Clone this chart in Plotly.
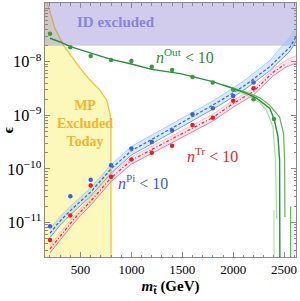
import math
import plotly.graph_objects as go

# ---------------- data ----------------
mass_pts = [200, 400, 600, 800, 1000, 1200, 1400, 1600, 1800, 2000, 2200, 2400]
eps_out_pts = [3.35e-8, 1.86e-8, 1.28e-8, 1.08e-8, 1.03e-8, 8.05e-9, 7.0e-9, 5.2e-9, 4.1e-9, 3.0e-9, 2.0e-9, 8.5e-10]
mass_pi_pts = [200, 400, 600, 800, 1000, 1200, 1400, 1600, 1800, 2000, 2200]
eps_pi_pts = [8.5e-12, 3.1e-11, 6.3e-11, 1.17e-10, 2.4e-10, 3.16e-10, 5.2e-10, 1.05e-9, 1.36e-9, 2.3e-9, 4.1e-9]
mass_tr_pts = [200, 400, 600, 800, 1000, 1200, 1400, 1600, 1800, 2000, 2200]
eps_tr_pts = [4.7e-12, 1.35e-11, 4.9e-11, 7.1e-11, 1.5e-10, 2.0e-10, 2.7e-10, 6.6e-10, 9.0e-10, 1.87e-9, 3.2e-9]

# n^Out < 10 curves
out_main_m = [200, 300, 400, 600, 800, 1000, 1200, 1480, 1600, 1800, 2000, 2130, 2230, 2260, 2360, 2405, 2440, 2456, 2459]
out_main_e = [2.75e-8, 2.34e-8, 1.91e-8, 1.45e-8, 1.11e-8, 9.1e-9, 7.2e-9, 6.0e-9, 5.25e-9, 4.27e-9, 3.16e-9,
              2.57e-9, 2.09e-9, 1.9e-9, 1.35e-9, 8.1e-10, 4.0e-10, 1.45e-10, 1e-12]
out_hi_m = [1900, 2000, 2130, 2260, 2358, 2456, 2495, 2505, 2508]
out_hi_e = [3.72e-9, 3.24e-9, 2.69e-9, 2.14e-9, 1.55e-9, 9.3e-10, 4.57e-10, 1.45e-10, 1.26e-11]
out_hi_tail_m = [2564, 2564]
out_hi_tail_e = [2.0e-11, 1e-12]
out_lo_m = [2000, 2130, 2260, 2325, 2390, 2416, 2427]
out_lo_e = [3.0e-9, 2.4e-9, 1.74e-9, 1.26e-9, 6.2e-10, 1.45e-10, 1.17e-11]
out_lo_tail_m = [2400, 2400]
out_lo_tail_e = [1.7e-11, 1e-12]

# n^Pi < 10 band
pi_m = [200, 300, 400, 500, 600, 800, 1000, 1200, 1400, 1600, 1800, 2000, 2130, 2360, 2560, 2620]
pi_mid = [6.3e-12, 1.07e-11, 1.66e-11, 2.5e-11, 3.7e-11, 1.0e-10, 2.19e-10, 3.55e-10, 5.75e-10, 9.3e-10,
          1.55e-9, 2.63e-9, 3.8e-9, 8.1e-9, 1.9e-8, 3.0e-8]
pi_up = [7.6e-12, 1.29e-11, 2.0e-11, 3.0e-11, 4.45e-11, 1.2e-10, 2.63e-10, 4.27e-10, 6.9e-10, 1.12e-9,
         1.86e-9, 3.2e-9, 4.8e-9, 1.05e-8, 3.0e-8, 5.0e-8]
pi_lo = [5.2e-12, 8.9e-12, 1.38e-11, 2.1e-11, 3.1e-11, 8.3e-11, 1.82e-10, 2.95e-10, 4.8e-10, 7.8e-10,
         1.3e-9, 2.2e-9, 3.2e-9, 6.8e-9, 1.6e-8, 2.5e-8]

# n^Tr < 10 band
tr_m = [200, 300, 400, 500, 600, 800, 1000, 1200, 1400, 1600, 1800, 2000, 2200, 2390, 2520, 2620]
tr_mid = [3.2e-12, 5.6e-12, 9.5e-12, 1.58e-11, 2.5e-11, 6.8e-11, 1.45e-10, 2.3e-10, 3.6e-10, 5.75e-10,
          9.1e-10, 1.66e-9, 2.8e-9, 6.3e-9, 9.3e-9, None]
tr_up = [3.7e-12, 6.5e-12, 1.1e-11, 1.82e-11, 2.9e-11, 7.8e-11, 1.66e-10, 2.63e-10, 4.1e-10, 6.6e-10,
         1.05e-9, 1.9e-9, 3.2e-9, 7.2e-9, 1.07e-8, 1.3e-8]
tr_lo = [2.7e-12, 4.8e-12, 8.1e-12, 1.35e-11, 2.1e-11, 5.8e-11, 1.23e-10, 1.95e-10, 3.1e-10, 4.9e-10,
         7.8e-10, 1.42e-9, 2.4e-9, 5.4e-9, 8.0e-9, 9.5e-9]

# MP excluded today boundary
mp_m = [140, 168, 249, 331, 413, 511, 593, 691, 757, 789, 799, 800, 800]
mp_e = [2e-7, 1.32e-7, 4.2e-8, 2.05e-8, 1.24e-8, 7.0e-9, 4.55e-9, 2.96e-9, 1.92e-9, 1.1e-9, 6.1e-10, 2.24e-10, 1e-12]

# ID excluded limit
id_limit = 2.0e-8

x_ticks = [500, 1000, 1500, 2000, 2500]

# ---------------- figure ----------------
SERIF = "Liberation Serif"
fig = go.Figure()

# MP excluded region
fig.add_trace(go.Scatter(x=mp_m + [140], y=mp_e[:-1] + [1e-12, 1e-12], mode="lines",
                         fill="toself", fillcolor="rgba(252,247,175,0.85)", line=dict(width=0),
                         hoverinfo="skip", showlegend=False))
fig.add_trace(go.Scatter(x=mp_m, y=mp_e, mode="lines", line=dict(color="#f3c623", width=1.3),
                         hoverinfo="skip", showlegend=False))

# ID excluded band
fig.add_trace(go.Scatter(x=[100, 3000, 3000, 100], y=[id_limit, id_limit, 1e-6, 1e-6], mode="lines",
                         fill="toself", fillcolor="rgba(140,128,205,0.4)", line=dict(width=0),
                         hoverinfo="skip", showlegend=False))

# Pi band
fig.add_trace(go.Scatter(x=pi_m, y=pi_up, mode="lines", line=dict(color="#a6d2f4", width=1),
                         showlegend=False, hoverinfo="skip"))
fig.add_trace(go.Scatter(x=pi_m, y=pi_lo, mode="lines", line=dict(color="#5aaee8", width=1),
                         fill="tonexty", fillcolor="rgba(120,185,240,0.30)", showlegend=False, hoverinfo="skip"))
fig.add_trace(go.Scatter(x=pi_m, y=pi_mid, mode="lines", line=dict(color="#3c5fe0", width=1.2, dash="3px,2px"),
                         showlegend=False, hoverinfo="skip"))

# Tr band
fig.add_trace(go.Scatter(x=tr_m, y=tr_up, mode="lines", line=dict(color="#f7c0d4", width=1),
                         showlegend=False, hoverinfo="skip"))
fig.add_trace(go.Scatter(x=tr_m, y=tr_lo, mode="lines", line=dict(color="#f07aae", width=1),
                         fill="tonexty", fillcolor="rgba(245,150,185,0.25)", showlegend=False, hoverinfo="skip"))
fig.add_trace(go.Scatter(x=tr_m, y=tr_mid, mode="lines",
                         line=dict(color="#ee2a2a", width=1.2, dash="3px,2px,1px,2px"),
                         showlegend=False, hoverinfo="skip", connectgaps=False))

# Out curves
fig.add_trace(go.Scatter(x=out_lo_m, y=out_lo_e, mode="lines", line=dict(color="#a9dca0", width=1.2),
                         showlegend=False, hoverinfo="skip"))
fig.add_trace(go.Scatter(x=out_lo_tail_m, y=out_lo_tail_e, mode="lines", line=dict(color="#b9e2b0", width=1.2),
                         showlegend=False, hoverinfo="skip"))
fig.add_trace(go.Scatter(x=out_hi_m, y=out_hi_e, mode="lines", line=dict(color="#57bb4a", width=1.2),
                         showlegend=False, hoverinfo="skip"))
fig.add_trace(go.Scatter(x=out_hi_tail_m, y=out_hi_tail_e, mode="lines", line=dict(color="#57bb4a", width=1.2),
                         showlegend=False, hoverinfo="skip"))
fig.add_trace(go.Scatter(x=out_main_m, y=out_main_e, mode="lines", line=dict(color="#22913a", width=1.4),
                         showlegend=False, hoverinfo="skip"))

# points
fig.add_trace(go.Scatter(x=mass_pts, y=eps_out_pts, mode="markers",
                         marker=dict(color="#3c9a3c", size=4.5), showlegend=False, hoverinfo="skip"))
fig.add_trace(go.Scatter(x=mass_pi_pts, y=eps_pi_pts, mode="markers",
                         marker=dict(color="#3f5ee8", size=4.5), showlegend=False, hoverinfo="skip"))
fig.add_trace(go.Scatter(x=mass_tr_pts, y=eps_tr_pts, mode="markers",
                         marker=dict(color="#ee1b1b", size=4.5), showlegend=False, hoverinfo="skip"))

def ann(text, x, logy, color, size):
    fig.add_annotation(x=x, y=logy, xref="x", yref="y", text=text, showarrow=False,
                       font=dict(family=SERIF, size=size, color=color), align="center")

ann("<b>ID excluded</b>", 850, -7.26, "#8a84dc", 15)
ann("<b>MP<br>Excluded<br>Today</b>", 545, -9.15, "#f5b52c", 14)
ann("<i>n</i><sup>Out</sup> &lt; 10", 1530, -7.9, "#2a8c3c", 16)
ann("<i>n</i><sup>Tr</sup> &lt; 10", 1800, -9.74, "#ee2222", 16)
ann("<i>n</i><sup>Pi</sup> &lt; 10", 1110, -10.25, "#4455ee", 16)

axis_common = dict(showgrid=False, zeroline=False, showline=True, linecolor="#8a8a8a", linewidth=1,
                   ticks="inside", mirror="ticks", tickcolor="#8a8a8a", ticklen=5, automargin=False,
                   tickfont=dict(family=SERIF, size=13, color="black"))

fig.update_xaxes(range=[151, 2617], tickvals=x_ticks, ticktext=[str(v) for v in x_ticks],
                 minor=dict(ticks="inside", dtick=100, ticklen=2.5, tickcolor="#8a8a8a"),
                 title=dict(text="<b><i>m</i><sub>t\u0303</sub> (GeV)</b>",
                            font=dict(family=SERIF, size=15, color="black"), standoff=4),
                 **axis_common)
fig.update_yaxes(type="log", range=[-11.645, -6.903], dtick=1, exponentformat="power",
                 minor=dict(ticks="inside", ticklen=2.5, tickcolor="#8a8a8a"),
                 title=dict(text="<b>\u03f5</b>", font=dict(family=SERIF, size=15, color="black"), standoff=4),
                 **axis_common)

fig.update_layout(width=300, height=301, margin=dict(l=45, r=4, t=3, b=44),
                  plot_bgcolor="white", paper_bgcolor="white", showlegend=False)

fig.write_html("out.html", config={"displayModeBar": False},
               post_script="document.body.style.margin='0';document.body.style.padding='0';")
